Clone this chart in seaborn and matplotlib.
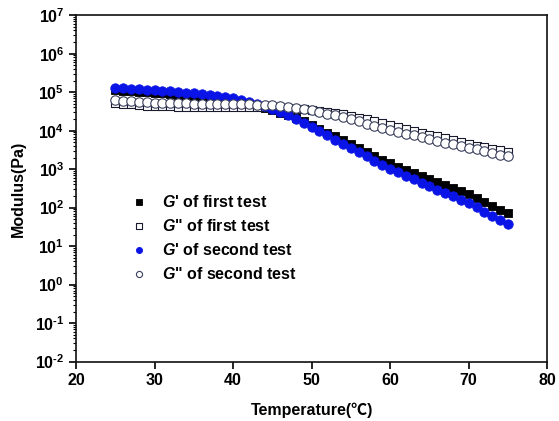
import matplotlib
matplotlib.use("Agg")
import numpy as np
import matplotlib.pyplot as plt
import matplotlib.ticker as mticker
import seaborn as sns

# temperature (deg C) and moduli (Pa)
temperature = [25, 26, 27, 28, 29, 30, 31, 32, 33, 34, 35, 36, 37, 38, 39, 40, 41, 42, 43, 44,
               45, 46, 47, 48, 49, 50, 51, 52, 53, 54, 55, 56, 57, 58, 59, 60, 61, 62, 63, 64,
               65, 66, 67, 68, 69, 70, 71, 72, 73, 74, 75]

g1_storage = [1.12e5, 1.10e5, 1.05e5, 1.02e5, 1.00e5, 9.55e4, 9.33e4, 8.91e4, 8.51e4, 8.32e4,
              7.94e4, 7.59e4, 7.24e4, 6.76e4, 6.46e4, 6.03e4, 5.50e4, 5.01e4, 4.47e4, 3.98e4,
              3.47e4, 2.95e4, 2.51e4, 2.09e4, 1.74e4, 1.41e4, 1.12e4, 8.91e3, 7.08e3, 5.62e3,
              4.47e3, 3.55e3, 2.82e3, 2.24e3, 1.78e3, 1.45e3, 1.17e3, 977, 813, 676,
              562, 468, 389, 324, 269, 224, 178, 141, 112, 89, 71]

g1_loss = [5.25e4, 5.01e4, 4.79e4, 4.57e4, 4.47e4, 4.37e4, 4.27e4, 4.27e4, 4.17e4, 4.17e4,
           4.17e4, 4.17e4, 4.17e4, 4.17e4, 4.17e4, 4.17e4, 4.17e4, 4.17e4, 4.17e4, 4.17e4,
           4.07e4, 3.98e4, 3.80e4, 3.72e4, 3.63e4, 3.47e4, 3.24e4, 3.02e4, 2.82e4, 2.63e4,
           2.40e4, 2.19e4, 1.95e4, 1.74e4, 1.58e4, 1.41e4, 1.26e4, 1.12e4, 1.00e4, 8.91e3,
           7.94e3, 7.08e3, 6.31e3, 5.62e3, 5.01e3, 4.47e3, 4.07e3, 3.72e3, 3.39e3, 3.09e3, 2.82e3]

g2_storage = [1.32e5, 1.29e5, 1.23e5, 1.20e5, 1.15e5, 1.12e5, 1.10e5, 1.05e5, 1.00e5, 9.77e4,
              9.33e4, 8.91e4, 8.51e4, 8.13e4, 7.59e4, 7.08e4, 6.31e4, 5.62e4, 5.01e4, 4.37e4,
              3.72e4, 3.09e4, 2.51e4, 2.04e4, 1.62e4, 1.26e4, 9.77e3, 7.59e3, 5.89e3, 4.57e3,
              3.55e3, 2.75e3, 2.14e3, 1.66e3, 1.29e3, 1.02e3, 832, 676, 550, 447,
              363, 295, 240, 200, 162, 132, 102, 79, 62, 48, 37]

g2_loss = [6.31e4, 6.03e4, 5.89e4, 5.62e4, 5.50e4, 5.37e4, 5.25e4, 5.25e4, 5.13e4, 5.13e4,
           5.01e4, 5.01e4, 5.01e4, 4.90e4, 4.90e4, 4.90e4, 4.79e4, 4.79e4, 4.68e4, 4.68e4,
           4.57e4, 4.37e4, 4.07e4, 3.89e4, 3.63e4, 3.39e4, 3.09e4, 2.75e4, 2.51e4, 2.24e4,
           2.00e4, 1.74e4, 1.51e4, 1.35e4, 1.17e4, 1.05e4, 9.33e3, 8.32e3, 7.59e3, 6.76e3,
           6.03e3, 5.37e3, 4.90e3, 4.37e3, 3.98e3, 3.55e3, 3.24e3, 2.95e3, 2.69e3, 2.40e3, 2.19e3]

labels = [r"$G$' of first test", r'$G$" of first test',
          r"$G$' of second test", r'$G$" of second test']

sns.set_style("ticks")
plt.rcParams['font.family'] = ['Liberation Sans', 'Noto Sans CJK SC', 'DejaVu Sans']
plt.rcParams['font.weight'] = 'bold'
plt.rcParams['text.color'] = 'black'
plt.rcParams['axes.labelcolor'] = 'black'
plt.rcParams['xtick.color'] = 'black'
plt.rcParams['ytick.color'] = 'black'
plt.rcParams['axes.unicode_minus'] = False
plt.rcParams['mathtext.fontset'] = 'custom'
plt.rcParams['mathtext.rm'] = 'Liberation Sans:bold'
plt.rcParams['mathtext.it'] = 'Liberation Sans:bold:italic'
plt.rcParams['mathtext.bf'] = 'Liberation Sans:bold'


def decade_label(val, pos):
    exp = int(round(np.log10(val)))
    if exp < 0:
        return r"$\mathdefault{10^{\text{-}%d}}$" % (-exp)
    return r"$\mathdefault{10^{%d}}$" % exp


fig, ax = plt.subplots(figsize=(5.59, 4.21), dpi=100)
fig.subplots_adjust(left=0.136, right=0.979, bottom=0.141, top=0.964)

ms = 40
sns.scatterplot(x=temperature, y=g1_storage, marker='s', color='black', edgecolor='black',
                s=ms, linewidth=0.6, ax=ax, label=labels[0])
sns.scatterplot(x=temperature, y=g1_loss, marker='s', color='white', edgecolor='#1a1a2e',
                s=ms, linewidth=0.8, ax=ax, label=labels[1])
sns.scatterplot(x=temperature, y=g2_storage, marker='o', color='#0a14e6', edgecolor='#0a14e6',
                s=ms + 6, linewidth=0.6, ax=ax, label=labels[2])
sns.scatterplot(x=temperature, y=g2_loss, marker='o', color='white', edgecolor='#3a3f5c',
                s=ms + 6, linewidth=0.8, ax=ax, label=labels[3])

ax.set_yscale('log')
ax.set_xlim(20, 80)
ax.set_ylim(1e-2, 1e7)
ax.xaxis.set_major_locator(mticker.MultipleLocator(10))
ax.yaxis.set_major_locator(mticker.LogLocator(base=10, numticks=20))
ax.yaxis.set_major_formatter(mticker.FuncFormatter(decade_label))
ax.yaxis.set_minor_locator(mticker.LogLocator(base=10, subs=range(2, 10), numticks=20))
ax.yaxis.set_minor_formatter(mticker.NullFormatter())

ax.tick_params(axis='both', which='major', direction='out', length=5, width=1.2,
               labelsize=11.5)
ax.tick_params(axis='y', which='minor', direction='out', length=2.5, width=0.8)
ax.tick_params(axis='x', which='minor', bottom=False)
for lab in ax.get_xticklabels() + ax.get_yticklabels():
    lab.set_fontweight('bold')
for sp in ax.spines.values():
    sp.set_visible(True)
    sp.set_linewidth(1.2)
    sp.set_color('#111111')

ax.set_xlabel("Temperature(℃)", fontsize=11.5, fontweight='bold', labelpad=10)
ax.set_ylabel("Modulus(Pa)", fontsize=11.5, fontweight='bold', labelpad=6)

ax.legend(loc='upper left', bbox_to_anchor=(0.117, 0.485), frameon=False,
          borderaxespad=0, borderpad=0, handlelength=1.0, handletextpad=0.9,
          labelspacing=0.5, markerscale=0.65, prop={'weight': 'bold', 'size': 11.5})

plt.savefig("out.png", dpi=100)
